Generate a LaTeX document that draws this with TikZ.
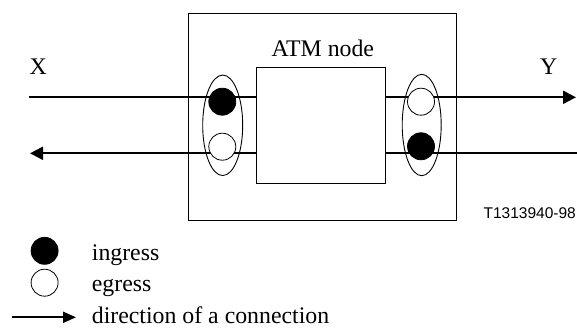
\documentclass[tikz,border=0pt]{standalone}
\usepackage{fontspec}
\setmainfont{Liberation Serif}
\newfontfamily\labelsans{Liberation Sans}
\usetikzlibrary{arrows.meta,shapes.geometric}
\begin{document}
\begin{tikzpicture}[x=1pt,y=-1pt,
  txt/.style={inner sep=0pt,font=\fontsize{23.8}{27}\selectfont},
  boxframe/.style={draw,line width=0.9pt,inner sep=0pt},
  port/.style={draw,line width=0.9pt,ellipse,inner sep=0pt},
  ingr/.style={circle,fill=black,draw=black,line width=0.8pt,minimum size=27pt,inner sep=0pt},
  egr/.style={circle,fill=white,draw=black,line width=0.8pt,minimum size=27pt,inner sep=0pt},
  conn/.style={line width=2pt,-{Triangle[length=13pt,width=13pt]}},
  plain/.style={line width=2pt}]
\useasboundingbox (0,0) rectangle (577,331);
% outer and inner boxes
\node[boxframe,minimum width=268pt,minimum height=207.5pt] (outer) at (322.3,117) {};
\node[boxframe,minimum width=129pt,minimum height=115.5pt] (atm) at (321.2,125.3) {};
\node[txt,anchor=base] (atmlbl) at (322.8,56.7) {ATM node};
% free ends
\coordinate (xin) at (29.3,97.3);
\coordinate (xout) at (30,153.3);
\coordinate (yout) at (576,97.3);
\coordinate (yin) at (577,153.3);
\node[txt,anchor=base west] (xl) at (29.5,74.3) {X};
\node[txt,anchor=base west] (yl) at (540,74.3) {Y};
% connectors
\draw[plain] (xin) -- (atm.west |- xin);
\draw[conn] (atm.west |- xout) -- (xout);
\draw[conn] (atm.east |- yout) -- (yout);
\draw[plain] (yin) -- (atm.east |- yin);
% port ellipses
\node[port,minimum width=40pt,minimum height=100.5pt] (lport) at (222.7,125.3) {};
\node[port,minimum width=39pt,minimum height=101.4pt] (rport) at (421.7,125) {};
% ingress/egress points
\node[ingr] (li) at (222.3,101.7) {};
\node[egr] (le) at (222.3,146.7) {};
\node[egr] (re) at (421,101.7) {};
\node[ingr] (ri) at (421,146.3) {};
% figure id
\node[inner sep=0pt,anchor=base east,font=\labelsans\fontsize{15.5}{18}\selectfont] (fid) at (576,218.3) {T1313940-98};
% legend
\node[ingr] (legi) at (44.6,250.8) {};
\node[egr] (lege) at (44.6,282.7) {};
\coordinate (la) at (11.7,317.3);
\coordinate (lb) at (76,317.3);
\draw[line width=2pt,-{Triangle[length=13pt,width=11pt]}] (la) -- (lb);
\node[txt,anchor=base west] (ti) at (91.7,260) {ingress};
\node[txt,anchor=base west] (te) at (91.7,291.7) {egress};
\node[txt,anchor=base west] (td) at (91.7,323) {direction of a connection};
\end{tikzpicture}
\end{document}
